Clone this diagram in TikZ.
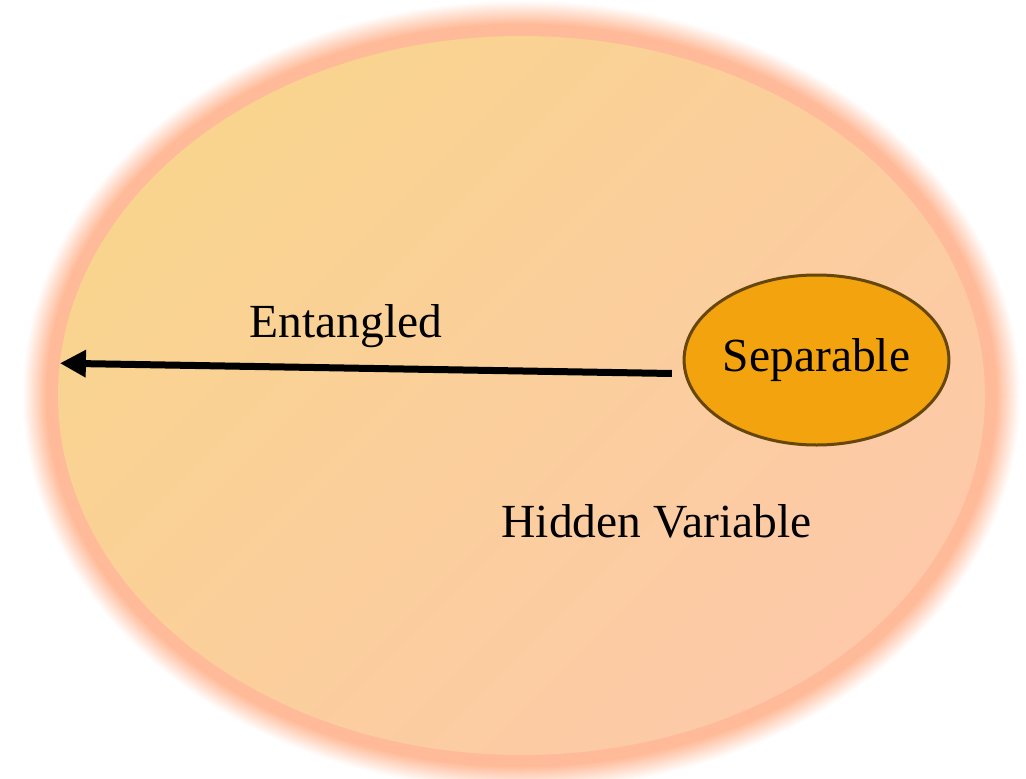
\documentclass[tikz,border=0pt]{standalone}
\usepackage{fontspec}
\setmainfont{Liberation Serif}
\usepackage{tikz}
\usetikzlibrary{shapes.geometric,arrows.meta}
\usepackage{xcolor}
\definecolor{Glow}{HTML}{FFBB99}
\definecolor{FillA}{HTML}{F9D48E}
\definecolor{FillB}{HTML}{FDC9A9}
\definecolor{SepFill}{HTML}{F2A30D}
\definecolor{SepLine}{HTML}{66460A}
\tikzset{
  lbl/.style={font=\fontsize{47.5}{57}\selectfont,inner sep=0pt},
}

\begin{document}
\begin{tikzpicture}[x=1pt,y=-1pt]
    \useasboundingbox (0,0) rectangle (1026,779);
    \coordinate (mid) at (521.5,395.5);

    % Gambar cahaya lembut di sekeliling elips besar
    \foreach \d in {36,35,...,12}{
        \pgfmathtruncatemacro{\p}{100*(36-\d)/24}
        \draw[Glow!\p!white,line width=2*\d pt] (mid) ellipse (463.5 and 359.5);
    }

    % Gambar elips besar dengan gradasi warna
    \node[ellipse,minimum width=927pt,minimum height=719pt,inner sep=0pt,outer sep=0pt,
          top color=FillA,bottom color=FillB,shading angle=45] (hidvar) at (mid) {};

    % Gambar elips kecil untuk keadaan terpisah
    \node[ellipse,draw=SepLine,line width=3pt,fill=SepFill,minimum width=263pt,
          minimum height=170pt,inner sep=0pt,outer sep=0pt,lbl] (sep) at (816.5,360) {Separable};

    % Gambar panah dari elips kecil ke tepi elips besar
    \draw[line width=7pt,-{Triangle[length=26pt,width=26pt]},shorten <=14pt] (sep.186)--(hidvar.176);

    % Tulis label
    \node[lbl,anchor=base] (entlabel) at (346,337) {Entangled};
    \node[lbl,anchor=base] (hvlabel) at (656.5,537) {Hidden Variable};

\end{tikzpicture}
\end{document}
